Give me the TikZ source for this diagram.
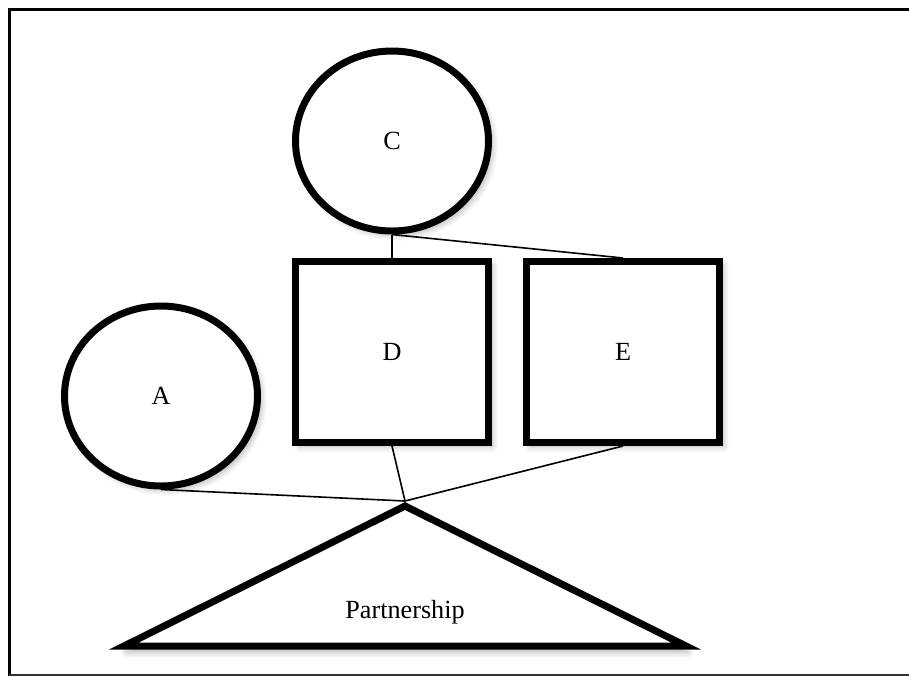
\documentclass[tikz,border=0pt]{standalone}
\usepackage{fontspec}
\setmainfont{Liberation Serif}
\usetikzlibrary{shapes.geometric, shadows.blur, positioning}

\begin{document}
\begin{tikzpicture}[x=0.5pt, y=-0.5pt, font=\fontsize{13.1}{15}\selectfont]
		\tikzstyle{person} = [ellipse, draw=black, line width=3.5pt, fill=white, minimum width=96.5pt, minimum height=90pt, inner sep=0, blur shadow={shadow xshift=2pt, shadow yshift=-2pt, shadow blur steps=6, shadow blur radius=3pt, shadow opacity=30}]
		\tikzstyle{firm} = [rectangle, draw=black, line width=3.5pt, fill=white, minimum width=96.5pt, minimum height=90.5pt, inner sep=0, blur shadow={shadow xshift=2pt, shadow yshift=-2pt, shadow blur steps=6, shadow blur radius=3pt, shadow opacity=30}]
		\tikzstyle{venture} = [draw=black, line width=3.5pt, fill=white, line join=miter, blur shadow={shadow xshift=1pt, shadow yshift=-3pt, shadow blur steps=6, shadow blur radius=3pt, shadow opacity=30}]
		\tikzstyle{link} = [line width=0.8pt, black]

		\useasboundingbox (0,0) rectangle (909,676);

		% Frame
		\draw[line width=1.5pt] (9,676) -- (9,9) -- (912,9);
		\draw[line width=1pt, black!80] (9,675) -- (912,675);

		% Owners
		\node[person](owner_c) at (392,141) {C};
		\node[person](owner_a) at (161,396) {A};
		\node[firm](firm_d) at (392,352) {D};
		\node[firm, right=15.5pt of firm_d](firm_e) {E};

		% Partnership
		\coordinate (apex) at (405,506);
		\draw[venture] (apex) -- (124,646) -- (686,646) -- cycle;
		\node(partner) at (405,612) {Partnership};

		% Links
		\draw[link] (owner_c.south) -- (firm_d.north);
		\draw[link] (owner_c.south) -- (firm_e.north);
		\foreach \n in {owner_a, firm_d, firm_e} {
				\draw[link] (\n.south) -- ([yshift=2.5pt]apex);
			};

	\end{tikzpicture}
\end{document}
